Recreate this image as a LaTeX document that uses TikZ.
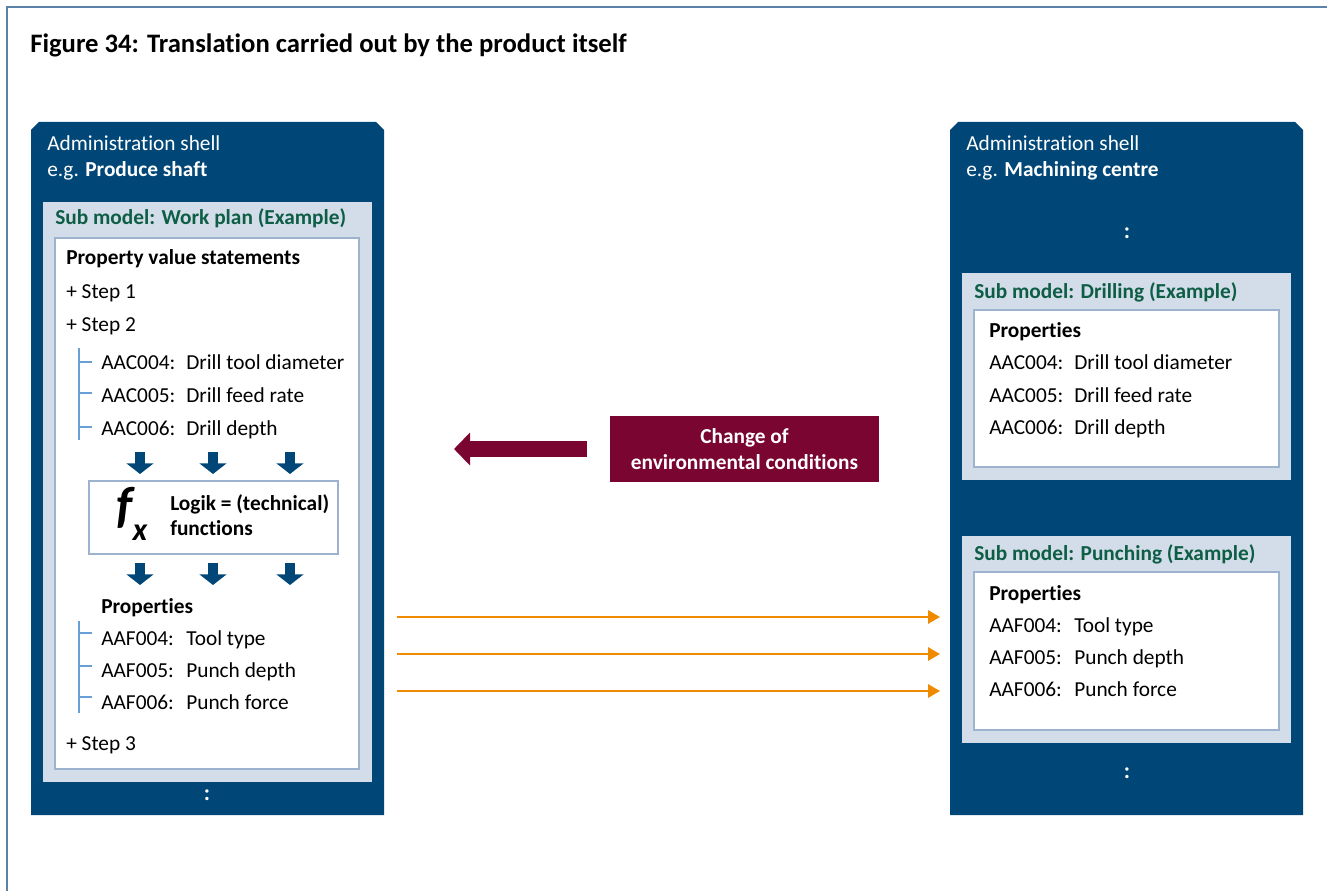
\documentclass[tikz,border=0pt]{standalone}
\usepackage{fontspec}
\setmainfont{Carlito}[Ligatures=NoCommon]
\usetikzlibrary{arrows.meta}
\definecolor{frameline}{HTML}{5B82A8}
\definecolor{shellblue}{HTML}{004778}
\definecolor{sublight}{HTML}{D3DDE9}
\definecolor{innerline}{HTML}{9DB2CF}
\definecolor{subgreen}{HTML}{0E5E46}
\definecolor{treeline}{HTML}{6A9FD4}
\definecolor{chgred}{HTML}{7A0530}
\definecolor{flowline}{HTML}{F08A00}
\newcommand{\propcode}[1]{\makebox[63.75pt][l]{#1}}
\begin{document}
\begin{tikzpicture}
[x=0.75pt, y=-0.75pt, font=\fontsize{16}{19}\selectfont]
\tikzstyle{txt}=[inner sep=0pt, anchor=base west]
\tikzstyle{head}=[txt, font=\fontsize{16}{19}\selectfont\bfseries]
\tikzstyle{subhead}=[head, text=subgreen]
\tikzstyle{shelltxt}=[txt, text=white]
\tikzstyle{dots}=[inner sep=0pt, text=white, font=\fontsize{17}{19}\selectfont\bfseries]
\tikzstyle{sub}=[fill=sublight]
\tikzstyle{whitebox}=[fill=white, draw=innerline, line width=1.2pt]
\tikzstyle{tree}=[draw=treeline, line width=1pt]
\tikzstyle{down}=[shellblue, line width=7.5pt, -{Triangle[width=20pt,length=8pt]}]
\tikzstyle{back}=[chgred, line width=12pt, -{Triangle[width=24pt,length=12pt]}]
\tikzstyle{flow}=[flowline, line width=1.5pt, -{Triangle[width=10pt,length=9pt]}]
\tikzstyle{chg}=[fill=chgred, text=white, align=center, minimum width=201.75pt, minimum height=49.5pt, font=\fontsize{16}{19}\selectfont\bfseries]

\useasboundingbox (0,0) rectangle (1327,891);
\draw[frameline, line width=1.5pt] (7,891) -- (7,7) -- (1327,7);
\node[txt, font=\fontsize{20}{24}\selectfont\bfseries] (title) at (30,53) {Figure 34: Translation carried out by the product itself};

\fill[shellblue] (31,130) -- (39,122) -- (376,122) -- (384,130) -- (384,815) -- (31,815) -- cycle;
\node[shelltxt]	(lshell)	at (47,151)	{Administration shell};
\node[shelltxt]	(lname)	at (47,177)	{e.g. \textbf{Produce shaft}};
\fill[sub] (43,202) rectangle (372,782);
\node[subhead]	(lsub)	at (55,225)	{Sub model: Work plan (Example)};
\draw[whitebox] (55,238) rectangle (359,769);
\node[head]	(pvs)	at (66,264)	{Property value statements};
\node[txt]	(step1)	at (66,298)	{+ Step 1};
\node[txt]	(step2)	at (66,331)	{+ Step 2};
\node[txt]	(aac4)	at (101,369)	{\propcode{AAC004:}Drill tool diameter};
\node[txt]	(aac5)	at (101,402)	{\propcode{AAC005:}Drill feed rate};
\node[txt]	(aac6)	at (101,435)	{\propcode{AAC006:}Drill depth};
\draw[tree] (79,348) -- (79,440);
\foreach \y in {362,393,427} \draw[tree] (79,\y) -- (92,\y);
\foreach \x in {140,213,290} \draw[down] (\x,452) -- (\x,474);
\draw[whitebox] (89,481) rectangle (338,554);
\node[inner sep=0pt, font=\fontsize{38}{38}\selectfont\bfseries\itshape]	(fx)	at (132,514)	{f\raisebox{-0.35em}{\fontsize{24}{24}\selectfont x}};
\node[head]	(logik1)	at (170,510)	{Logik = (technical)};
\node[head]	(logik2)	at (170,535)	{functions};
\foreach \x in {140,213,290} \draw[down] (\x,563) -- (\x,585);
\node[head]	(lprop)	at (101,613)	{Properties};
\node[txt]	(laaf4)	at (101,645)	{\propcode{AAF004:}Tool type};
\node[txt]	(laaf5)	at (101,677)	{\propcode{AAF005:}Punch depth};
\node[txt]	(laaf6)	at (101,709)	{\propcode{AAF006:}Punch force};
\draw[tree] (79,621) -- (79,713);
\foreach \y in {633,666,697} \draw[tree] (79,\y) -- (92,\y);
\node[txt]	(step3)	at (66,750)	{+ Step 3};
\node[dots]	(ldots)	at (207,795)	{:};

\node[chg]	(chg)	at (744.5,449)	{Change of\\environmental conditions};
\coordinate (rt) at (587,449);
\coordinate (rh) at (454,449);
\draw[back] (rt) -- (rh);

\fill[shellblue] (950,130) -- (958,122) -- (1295,122) -- (1303,130) -- (1303,815) -- (950,815) -- cycle;
\node[shelltxt]	(rshell)	at (966,151)	{Administration shell};
\node[shelltxt]	(rname)	at (966,177)	{e.g. \textbf{Machining centre}};
\node[dots]	(rdots1)	at (1127,233)	{:};
\fill[sub] (962,273) rectangle (1291,480);
\node[subhead]	(dsub)	at (974,298)	{Sub model: Drilling (Example)};
\draw[whitebox] (974,310) rectangle (1279,467);
\node[head]	(dprop)	at (989,337)	{Properties};
\node[txt]	(daac4)	at (989,369)	{\propcode{AAC004:}Drill tool diameter};
\node[txt]	(daac5)	at (989,402)	{\propcode{AAC005:}Drill feed rate};
\node[txt]	(daac6)	at (989,434)	{\propcode{AAC006:}Drill depth};
\fill[sub] (962,536) rectangle (1291,743);
\node[subhead]	(psub)	at (974,560)	{Sub model: Punching (Example)};
\draw[whitebox] (974,572) rectangle (1279,730);
\node[head]	(pprop)	at (989,600)	{Properties};
\node[txt]	(paaf4)	at (989,632)	{\propcode{AAF004:}Tool type};
\node[txt]	(paaf5)	at (989,664)	{\propcode{AAF005:}Punch depth};
\node[txt]	(paaf6)	at (989,696)	{\propcode{AAF006:}Punch force};
\node[dots]	(rdots2)	at (1127,773)	{:};

\coordinate (f1) at (397,617);
\coordinate (f2) at (397,654);
\coordinate (f3) at (397,691);
\coordinate (t1) at (940,617);
\coordinate (t2) at (940,654);
\coordinate (t3) at (940,691);
\draw[flow] (f1) -- (t1);
\draw[flow] (f2) -- (t2);
\draw[flow] (f3) -- (t3);
\end{tikzpicture}
\end{document}
